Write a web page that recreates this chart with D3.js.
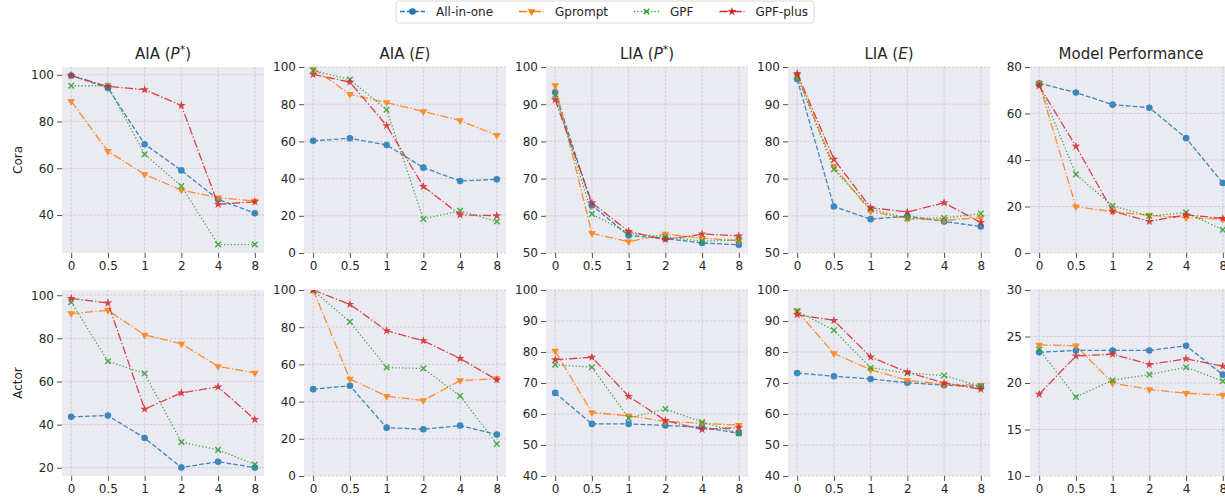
<!DOCTYPE html>
<html>
<head>
<meta charset="utf-8">
<script src="https://cdn.jsdelivr.net/npm/d3@7"></script>
<style>
  body { margin: 0; background: #fff; }
  svg text { font-family: "DejaVu Sans", sans-serif; fill: #262626; }
</style>
</head>
<body>
<svg id="chart" width="1225" height="498"></svg>
<script>
const xLabels = ["0", "0.5", "1", "2", "4", "8"];
const methods = ["All-in-one", "Gprompt", "GPF", "GPF-plus"];
const colors = ["#1f77b4", "#ff7f0e", "#2ca02c", "#d62728"];
const rowNames = ["Cora", "Actor"];

// titles: base text, italic symbol, superscript
const titleBase = ["AIA", "AIA", "LIA", "LIA", "Model Performance"];
const titleSym = ["P", "E", "P", "E", null];
const titleSup = ["*", "", "*", "", ""];

// each array holds one row per method (All-in-one, Gprompt, GPF, GPF-plus)
const coraAiaP = [
  [99.7, 94.3, 70.3, 59.1, 46.7, 40.8],
  [88.7, 67.3, 57.4, 50.7, 47.4, 46.0],
  [95.3, 95.3, 66.0, 52.4, 27.4, 27.4],
  [99.7, 95.0, 93.6, 86.9, 44.6, 45.7]
];
const coraAiaE = [
  [60.3, 61.7, 58.1, 45.9, 38.7, 39.6],
  [99.3, 85.3, 80.9, 76.1, 71.2, 63.3],
  [98.2, 93.2, 77.0, 18.3, 22.7, 16.9],
  [96.0, 91.9, 68.5, 35.8, 20.5, 20.1]
];
const coraLiaP = [
  [93.2, 62.8, 54.7, 53.9, 52.7, 52.2],
  [95.0, 55.3, 53.0, 55.1, 54.0, 53.3],
  [92.5, 60.5, 55.3, 54.3, 53.2, 53.5],
  [91.2, 63.5, 55.8, 53.6, 55.1, 54.6]
];
const coraLiaE = [
  [96.7, 62.5, 59.1, 59.9, 58.5, 57.1],
  [97.8, 73.3, 61.2, 59.2, 58.8, 59.5],
  [97.5, 72.5, 61.8, 59.3, 59.4, 60.6],
  [98.3, 75.2, 62.2, 61.0, 63.5, 58.2]
];
const coraPerf = [
  [73.0, 69.0, 63.8, 62.5, 49.4, 30.1],
  [73.0, 19.9, 17.8, 16.2, 15.2, 14.6],
  [72.5, 33.8, 20.3, 15.9, 17.4, 10.0],
  [71.9, 45.9, 18.0, 13.6, 16.4, 14.9]
];
const actorAiaP = [
  [43.6, 44.2, 33.8, 20.1, 22.8, 20.1],
  [91.5, 93.0, 81.6, 77.5, 67.0, 64.0],
  [96.8, 69.4, 63.7, 31.9, 28.3, 21.5],
  [98.5, 96.4, 47.2, 54.7, 57.5, 42.4]
];
const actorAiaE = [
  [46.7, 48.5, 26.0, 25.1, 27.1, 22.3],
  [100.0, 52.1, 42.9, 40.6, 51.3, 52.4],
  [99.8, 82.9, 58.3, 57.8, 43.1, 17.2],
  [100.0, 92.3, 78.1, 72.7, 63.2, 51.7]
];
const actorLiaP = [
  [66.8, 56.8, 56.8, 56.3, 55.7, 53.8],
  [80.3, 60.5, 59.4, 57.6, 57.0, 56.4],
  [75.9, 75.1, 58.7, 61.6, 57.4, 53.9],
  [77.5, 78.3, 65.7, 57.9, 55.0, 55.6]
];
const actorLiaE = [
  [73.2, 72.2, 71.3, 70.1, 69.3, 68.9],
  [93.2, 79.5, 74.3, 70.9, 69.5, 69.3],
  [93.2, 87.0, 74.9, 73.2, 72.4, 68.9],
  [92.0, 90.2, 78.4, 73.5, 70.0, 68.0]
];
const actorPerf = [
  [23.3, 23.5, 23.5, 23.5, 24.0, 20.9],
  [24.1, 24.0, 20.0, 19.3, 18.9, 18.7],
  [23.6, 18.5, 20.3, 20.9, 21.7, 20.2],
  [18.8, 22.9, 23.1, 22.0, 22.6, 21.8]
];

const coraPanels = [coraAiaP, coraAiaE, coraLiaP, coraLiaE, coraPerf];
const actorPanels = [actorAiaP, actorAiaE, actorLiaP, actorLiaE, actorPerf];
// fixed y limits (null = autoscale with 5% margin)
const coraYLim = [null, [0, 100], [50, 100], [50, 100], [0, 80]];
const actorYLim = [null, [0, 100], [40, 100], [40, 100], [10, 30]];

const svg = d3.select("#chart");
const panelW = 202, panelH = 186;
const lefts = [62, 304, 546, 788, 1030];
const tops = [67, 290];

const dashes = ["4.8,2.1", "8.3,2.1,1.3,2.1", "1.3,2.1", "8.3,2.1,1.3,2.1"];

function marker(sel, i) {
  if (i === 0) {
    sel.append("circle").attr("r", 3.3).attr("fill", colors[i]);
  } else if (i === 1) {
    sel.append("path").attr("d", d3.symbol(d3.symbolTriangle, 26)())
      .attr("transform", "rotate(180)").attr("fill", colors[i]);
  } else if (i === 2) {
    sel.append("path").attr("d", "M-2.8,-2.8L2.8,2.8M-2.8,2.8L2.8,-2.8")
      .attr("stroke", colors[i]).attr("stroke-width", 1.4).attr("fill", "none");
  } else {
    sel.append("path").attr("d", d3.symbol(d3.symbolStar, 24)()).attr("fill", colors[i]);
  }
}

let clipId = 0;
function drawPanel(left, top, data, ylim) {
  const g = svg.append("g").attr("transform", `translate(${left},${top})`);
  const x = d3.scalePoint().domain(xLabels).range([0, panelW]).padding(0.25);
  let dom = ylim;
  if (!dom) {
    const ext = d3.extent(data.flat());
    const m = (ext[1] - ext[0]) * 0.05;
    dom = [ext[0] - m, ext[1] + m];
  }
  const y = d3.scaleLinear().domain(dom).range([panelH, 0]);

  g.append("rect").attr("width", panelW).attr("height", panelH).attr("fill", "#eaeaf2");

  const yt = y.ticks(5);
  g.selectAll(".gy").data(yt).enter().append("line")
    .attr("x1", 0).attr("x2", panelW).attr("y1", d => y(d)).attr("y2", d => y(d))
    .attr("stroke", "#c6c6cc").attr("stroke-width", 0.8).attr("stroke-dasharray", "2.5,1.5");
  g.selectAll(".gx").data(xLabels).enter().append("line")
    .attr("y1", 0).attr("y2", panelH).attr("x1", d => x(d)).attr("x2", d => x(d))
    .attr("stroke", "#c6c6cc").attr("stroke-width", 0.8).attr("stroke-dasharray", "2.5,1.5");

  const id = "clip" + (clipId++);
  g.append("clipPath").attr("id", id).append("rect").attr("width", panelW).attr("height", panelH);
  const plot = g.append("g").attr("clip-path", `url(#${id})`);

  data.forEach((vals, i) => {
    const pts = vals.map((v, j) => [x(xLabels[j]), y(v)]);
    const s = plot.append("g").attr("opacity", 0.85);
    s.append("path").attr("d", d3.line()(pts)).attr("fill", "none")
      .attr("stroke", colors[i]).attr("stroke-width", 1.3)
      .attr("stroke-dasharray", dashes[i]);
    pts.forEach(p => {
      marker(s.append("g").attr("transform", `translate(${p[0]},${p[1]})`), i);
    });
  });

  const ya = g.append("g").call(d3.axisLeft(y).tickValues(yt).tickSize(5).tickPadding(3));
  const xa = g.append("g").attr("transform", `translate(0,${panelH})`)
    .call(d3.axisBottom(x).tickSize(5).tickPadding(3));
  [ya, xa].forEach(a => {
    a.select(".domain").remove();
    a.selectAll(".tick line").attr("stroke", "#262626").attr("stroke-width", 0.8);
    a.selectAll("text").attr("font-size", 12).attr("fill", "#262626")
      .style("font-family", '"DejaVu Sans", sans-serif');
  });
  return g;
}

coraPanels.forEach((d, c) => drawPanel(lefts[c], tops[0], d, coraYLim[c]));
actorPanels.forEach((d, c) => drawPanel(lefts[c], tops[1], d, actorYLim[c]));

// titles
lefts.forEach((l, c) => {
  const t = svg.append("text").attr("x", l + panelW / 2).attr("y", tops[0] - 8)
    .attr("text-anchor", "middle").attr("font-size", 15);
  if (titleSym[c]) {
    t.append("tspan").text(titleBase[c] + " (");
    t.append("tspan").attr("font-style", "italic").text(titleSym[c]);
    if (titleSup[c]) t.append("tspan").attr("font-size", 11).attr("dy", -6).text(titleSup[c]);
    t.append("tspan").attr("dy", titleSup[c] ? 6 : 0).text(")");
  } else {
    t.text(titleBase[c]);
  }
});

// row labels
rowNames.forEach((n, r) => {
  svg.append("text").attr("transform", `translate(22,${tops[r] + panelH / 2}) rotate(-90)`)
    .attr("text-anchor", "middle").attr("font-size", 12).text(n);
});

// legend
const leg = svg.append("g");
const box = leg.append("rect").attr("x", 396).attr("y", 1).attr("height", 22).attr("rx", 3)
  .attr("fill", "#fff").attr("stroke", "#d0d0d0").attr("stroke-width", 0.8);
let lx = 400;
methods.forEach((m, i) => {
  const it = leg.append("g").attr("transform", `translate(${lx},11.5)`);
  it.append("line").attr("x1", 0).attr("x2", 25).attr("stroke", colors[i])
    .attr("stroke-width", 1.3).attr("stroke-dasharray", dashes[i]);
  marker(it.append("g").attr("transform", "translate(12.5,0)"), i);
  const tx = it.append("text").attr("x", 36).attr("dy", "0.35em").attr("font-size", 12).text(m);
  const w = tx.node().getComputedTextLength();
  lx += 36 + w + (i < methods.length - 1 ? 26 : 6);
});
box.attr("width", lx - 396);
</script>
</body>
</html>
